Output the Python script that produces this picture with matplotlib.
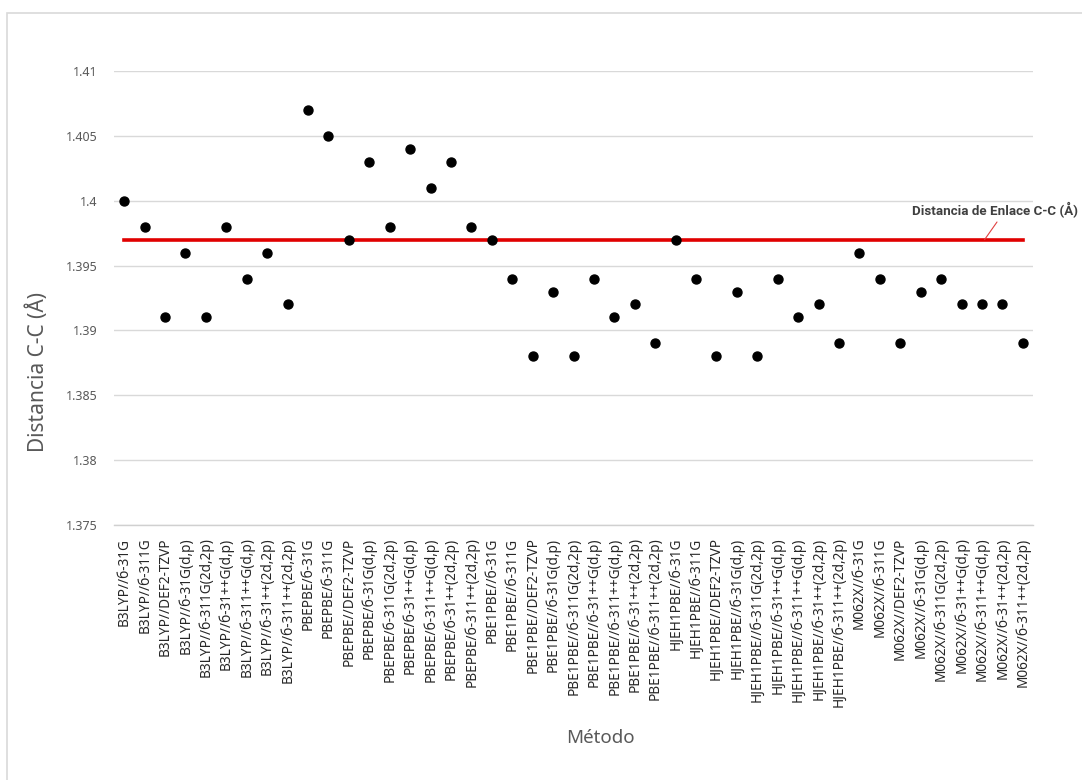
import matplotlib
matplotlib.use("Agg")
import matplotlib.pyplot as plt
from matplotlib.patches import Rectangle

categories = [
    "B3LYP//б-31G", "B3LYP//б-311G", "B3LYP//DEF2-TZVP", "B3LYP//б-31G(d,p)",
    "B3LYP//б-311G(2d,2p)", "B3LYP//б-31++G(d,p)", "B3LYP//б-311++G(d,p)",
    "B3LYP//б-31++(2d,2p)", "B3LYP//б-311++(2d,2p)",
    "PBEPBE/б-31G", "PBEPBE/б-311G", "PBEPBE//DEF2-TZVP", "PBEPBE/б-31G(d,p)",
    "PBEPBE/б-311G(2d,2p)", "PBEPBE/б-31++G(d,p)", "PBEPBE/б-311++G(d,p)",
    "PBEPBE/б-31++(2d,2p)", "PBEPBE/б-311++(2d,2p)",
    "PBE1PBE//б-31G", "PBE1PBE//б-311G", "PBE1PBE//DEF2-TZVP", "PBE1PBE//б-31G(d,p)",
    "PBE1PBE//б-311G(2d,2p)", "PBE1PBE//б-31++G(d,p)", "PBE1PBE//б-311++G(d,p)",
    "PBE1PBE//б-31++(2d,2p)", "PBE1PBE//б-311++(2d,2p)",
    "HJEH1PBE//б-31G", "HJEH1PBE//б-311G", "HJEH1PBE//DEF2-TZVP", "HJEH1PBE//б-31G(d,p)",
    "HJEH1PBE//б-311G(2d,2p)", "HJEH1PBE//б-31++G(d,p)", "HJEH1PBE//б-311++G(d,p)",
    "HJEH1PBE//б-31++(2d,2p)", "HJEH1PBE//б-311++(2d,2p)",
    "M062X//б-31G", "M062X//б-311G", "M062X//DEF2-TZVP", "M062X//б-31G(d,p)",
    "M062X//б-311G(2d,2p)", "M062X//б-31++G(d,p)", "M062X//б-311++G(d,p)",
    "M062X//б-31++(2d,2p)", "M062X//б-311++(2d,2p)",
]
distances = [
    1.400, 1.398, 1.391, 1.396, 1.391, 1.398, 1.394, 1.396, 1.392,
    1.407, 1.405, 1.397, 1.403, 1.398, 1.404, 1.401, 1.403, 1.398,
    1.397, 1.394, 1.388, 1.393, 1.388, 1.394, 1.391, 1.392, 1.389,
    1.397, 1.394, 1.388, 1.393, 1.388, 1.394, 1.391, 1.392, 1.389,
    1.396, 1.394, 1.389, 1.393, 1.394, 1.392, 1.392, 1.392, 1.389,
]
reference_value = 1.397
y_ticks = [1.375, 1.38, 1.385, 1.39, 1.395, 1.4, 1.405, 1.41]
y_tick_labels = ["1.375", "1.38", "1.385", "1.39", "1.395", "1.4", "1.405", "1.41"]
ref_label = "Distancia de Enlace C-C (Å)"

plt.rcParams['font.family'] = ['Noto Sans', 'DejaVu Sans']

W, H = 1082, 780
fig = plt.figure(figsize=(W / 100, H / 100), dpi=100)
fig.patch.set_facecolor("white")

# chart-area border
fig.patches.append(Rectangle((7 / W, -0.01), 1.05, 1 - 13 / H + 0.01, transform=fig.transFigure,
                             fill=False, edgecolor="#D9D9D9", lw=1.2))

ax = fig.add_axes([114 / W, 1 - 525 / H, (1033 - 114) / W, (525 - 71) / H])
x = list(range(len(categories)))

ax.set_ylim(1.375, 1.41)
ax.set_xlim(-0.5, len(categories) - 0.5)
ax.set_yticks(y_ticks)
ax.set_yticklabels(y_tick_labels, color="#595959", fontsize=9)
ax.set_xticks(x)
ax.set_xticklabels(categories, rotation=90, fontsize=9.8, color="#262626")
ax.tick_params(axis="both", length=0)
ax.tick_params(axis="y", pad=12)
ax.tick_params(axis="x", pad=9)
ax.grid(axis="y", color="#D9D9D9", lw=1)
ax.set_axisbelow(True)
for s in ["left", "right", "top"]:
    ax.spines[s].set_visible(False)
ax.spines["bottom"].set_color("#D0D0D0")
ax.spines["bottom"].set_linewidth(1)

ax.plot([x[0], x[-1]], [reference_value, reference_value], color="#E00000", lw=2.6, zorder=2)
ax.scatter(x, distances, s=42, color="black", zorder=3)

fig.text(38 / W, 1 - 372 / H, "Distancia C-C (Å)", fontsize=15, color="#595959",
         rotation=90, ha="center", va="center")
fig.text(600 / W, 1 - 738 / H, "Método", fontsize=13.5, color="#595959",
         ha="center", va="center")

fig.text(912 / W, 1 - 210 / H, ref_label, fontsize=9.6, fontweight="bold", color="#404040",
         ha="left", va="center", family=['Roboto', 'DejaVu Sans'])
ax.annotate("", xy=(42.13, reference_value), xycoords="data",
            xytext=(997, H - 222), textcoords="figure pixels",
            arrowprops=dict(arrowstyle="-", color="#E04040", lw=0.8, shrinkA=0, shrinkB=0))

fig.savefig("out.png", dpi=100)
